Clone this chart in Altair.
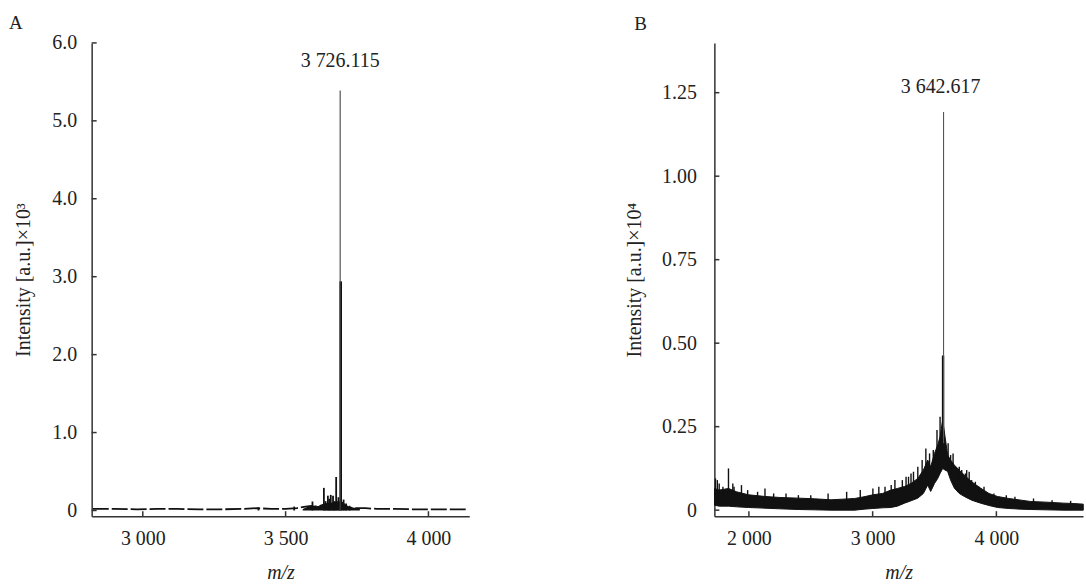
import altair as alt
import pandas as pd

FONT = "Liberation Serif"
INK = "#111111"
AXC = "#333333"

# ---------------- Panel A data ----------------
a_base_mz = [2825, 2900, 2980, 3050, 3120, 3200, 3280, 3350, 3400, 3450, 3500, 3540,
             3570, 3590, 3600, 3620, 3640, 3660, 3680, 3700, 3710, 3720, 3740, 3780,
             3820, 3880, 3950, 4020, 4080, 4140]
a_base_v = [0.02, 0.02, 0.015, 0.02, 0.02, 0.015, 0.015, 0.02, 0.03, 0.02, 0.02, 0.03,
            0.05, 0.06, 0.05, 0.06, 0.08, 0.08, 0.08, 0.1, 0.06, 0.04, 0.03, 0.03,
            0.02, 0.02, 0.015, 0.015, 0.015, 0.015]
a_clu_mz = [3560, 3580, 3600, 3620, 3630, 3640, 3650, 3660, 3670, 3680, 3688, 3695,
            3700, 3710, 3720, 3740, 3760]
a_clu_v = [0.02, 0.05, 0.05, 0.06, 0.08, 0.09, 0.1, 0.1, 0.11, 0.12, 0.12, 0.12,
           0.09, 0.07, 0.05, 0.035, 0.02]
a_spk_mz = [3405, 3530, 3594, 3634, 3640, 3648, 3653, 3658, 3666, 3671, 3677, 3685,
            3703, 3712, 3724]
a_spk_top = [0.04, 0.05, 0.115, 0.29, 0.12, 0.19, 0.15, 0.2, 0.19, 0.12, 0.43, 0.17,
             0.14, 0.09, 0.06]
a_main_mz = 3691
a_main_top = 5.39
a_main_thick_top = 2.94
a_label = "3 726.115"
a_xticks = [3000, 3500, 4000]
a_yticks = [0, 1, 2, 3, 4, 5, 6]

# ---------------- Panel B data ----------------
b_mz = [1722, 1760, 1835, 1900, 1996, 2130, 2250, 2399, 2530, 2664, 2760, 2855, 2930,
        3002, 3080, 3147, 3200, 3258, 3310, 3365, 3410, 3445, 3469, 3500, 3526, 3545,
        3566, 3585, 3606, 3630, 3660, 3700, 3741, 3800, 3872, 3940, 4009, 4100, 4200,
        4275, 4400, 4546, 4620, 4702]
b_hi = [0.065, 0.06, 0.065, 0.055, 0.046, 0.041, 0.038, 0.036, 0.034, 0.031, 0.033,
        0.035, 0.04, 0.046, 0.05, 0.06, 0.065, 0.071, 0.08, 0.095, 0.12, 0.15, 0.13,
        0.17, 0.195, 0.22, 0.27, 0.22, 0.165, 0.15, 0.135, 0.12, 0.105, 0.085, 0.066,
        0.05, 0.041, 0.035, 0.03, 0.026, 0.024, 0.021, 0.02, 0.018]
b_lo = [0.015, 0.012, 0.012, 0.01, 0.008, 0.006, 0.004, 0.002, 0.001, 0.0, 0.0, 0.0,
        0.003, 0.005, 0.007, 0.008, 0.012, 0.021, 0.028, 0.036, 0.05, 0.075, 0.056,
        0.08, 0.095, 0.11, 0.125, 0.12, 0.116, 0.09, 0.066, 0.05, 0.041, 0.03, 0.021,
        0.014, 0.008, 0.005, 0.003, 0.002, 0.001, 0.0, 0.0, 0.0]
b_spk_mz = [1730, 1745, 1760, 1790, 1835, 1870, 1880, 1940, 1990, 2070, 2130, 2200,
            2300, 2400, 2500, 2640, 2790, 2900, 3002, 3050, 3100, 3150, 3180, 3240,
            3270, 3290, 3310, 3330, 3365, 3400, 3430, 3460, 3490, 3520, 3545, 3566,
            3610, 3630, 3650, 3680, 3700, 3720, 3750, 3760, 3780, 3800, 3830, 3860,
            3900, 3980, 4080, 4150, 4300, 4450, 4600]
b_spk_base = [0.04, 0.04, 0.04, 0.04, 0.05, 0.04, 0.04, 0.04, 0.03, 0.03, 0.03, 0.03,
              0.03, 0.03, 0.03, 0.03, 0.03, 0.03, 0.04, 0.04, 0.05, 0.05, 0.05, 0.06,
              0.06, 0.07, 0.07, 0.07, 0.08, 0.09, 0.1, 0.1, 0.1, 0.15, 0.18, 0.2,
              0.15, 0.12, 0.12, 0.1, 0.1, 0.09, 0.08, 0.08, 0.07, 0.06, 0.06, 0.05,
              0.04, 0.04, 0.03, 0.03, 0.02, 0.02, 0.015]
b_spk_top = [0.095, 0.09, 0.08, 0.07, 0.125, 0.08, 0.07, 0.075, 0.06, 0.055, 0.065,
             0.05, 0.05, 0.045, 0.045, 0.05, 0.055, 0.06, 0.065, 0.07, 0.07, 0.075,
             0.09, 0.09, 0.1, 0.1, 0.11, 0.115, 0.13, 0.15, 0.185, 0.17, 0.18, 0.24,
             0.28, 0.32, 0.2, 0.165, 0.17, 0.125, 0.13, 0.12, 0.11, 0.12, 0.115,
             0.09, 0.085, 0.07, 0.07, 0.05, 0.045, 0.04, 0.035, 0.03, 0.028]
b_main_mz = 3573
b_main_top = 1.192
b_main_thick_top = 0.463
b_main_base = 0.2
b_label = "3 642.617"
b_xticks = [2000, 3000, 4000]
b_yticks = [0, 0.25, 0.5, 0.75, 1.0, 1.25]


def xenc(dom, vals):
    return alt.X("mz:Q",
                 scale=alt.Scale(domain=dom, nice=False, zero=False),
                 axis=alt.Axis(values=vals, title="m/z", titleFontStyle="italic",
                               labelExpr="replace(format(datum.value, ','), ',', ' ')",
                               ticks=False, grid=False, labelPadding=12,
                               titlePadding=15, labelFlush=False))


def yenc(field, dom, vals, fmt, title, lp, tp):
    return alt.Y(f"{field}:Q",
                 scale=alt.Scale(domain=dom, nice=False, zero=False),
                 axis=alt.Axis(values=vals, title=title,
                               labelExpr=f"datum.value == 0 ? '0' : format(datum.value, '{fmt}')",
                               ticks=False, grid=False, labelPadding=lp,
                               titlePadding=tp))


def panel(W, H, xdom, ydom, xt, yt, fmt, title, lp, tp, letter, lx, ly,
          layers_fn):
    X = xenc(xdom, xt)

    def Y(f):
        return yenc(f, ydom, yt, fmt, title, lp, tp)

    layers = layers_fn(X, Y)
    xt_df = pd.DataFrame({"mz": xt})
    yt_df = pd.DataFrame({"v": yt})
    xticks = alt.Chart(xt_df).mark_rule(color=AXC, strokeWidth=1.5).encode(
        x=X, y=alt.value(H), y2=alt.value(H - 5))
    yticks = alt.Chart(yt_df).mark_rule(color=AXC, strokeWidth=1.5).encode(
        y=Y("v"), x=alt.value(0), x2=alt.value(5))
    let = alt.Chart(pd.DataFrame({"t": [letter]})).mark_text(
        font=FONT, fontSize=19, color="#222", align="center", baseline="middle"
    ).encode(x=alt.value(lx), y=alt.value(ly), text="t:N")
    return alt.layer(*layers, xticks, yticks, let).properties(width=W, height=H)


def layers_a(X, Y):
    base = alt.Chart(pd.DataFrame({"mz": a_base_mz, "v": a_base_v})).mark_line(
        color=INK, strokeWidth=1.8, strokeDash=[16, 3]).encode(x=X, y=Y("v"))
    clu = alt.Chart(pd.DataFrame({"mz": a_clu_mz, "v": a_clu_v})).mark_area(
        color=INK).encode(x=X, y=Y("v"), y2=alt.datum(0))
    spk = alt.Chart(pd.DataFrame({"mz": a_spk_mz, "v": a_spk_top})).mark_rule(
        color=INK, strokeWidth=1.8).encode(x=X, y=Y("v"), y2=alt.datum(0))
    main = alt.Chart(pd.DataFrame({"mz": [a_main_mz], "v": [a_main_top]})).mark_rule(
        color="#444", strokeWidth=1.1).encode(x=X, y=Y("v"), y2=alt.datum(0))
    thick = alt.Chart(pd.DataFrame({"mz": [a_main_mz + 2], "v": [a_main_thick_top]})).mark_rule(
        color=INK, strokeWidth=2.6).encode(x=X, y=Y("v"), y2=alt.datum(0))
    lab = alt.Chart(pd.DataFrame({"mz": [a_main_mz], "v": [a_main_top], "t": [a_label]})).mark_text(
        font=FONT, fontSize=20, color="#222", dy=-24, baseline="alphabetic"
    ).encode(x=X, y=Y("v"), text="t:N")
    return [base, clu, spk, thick, main, lab]


def layers_b(X, Y):
    band = alt.Chart(pd.DataFrame({"mz": b_mz, "hi": b_hi, "lo": b_lo})).mark_area(
        color=INK, stroke=INK, strokeWidth=1.0).encode(x=X, y=Y("hi"), y2="lo:Q")
    spk = alt.Chart(pd.DataFrame({"mz": b_spk_mz, "v": b_spk_top, "b": b_spk_base})).mark_rule(
        color=INK, strokeWidth=1.4).encode(x=X, y=Y("v"), y2="b:Q")
    main = alt.Chart(pd.DataFrame({"mz": [b_main_mz], "v": [b_main_top], "b": [b_main_base]})).mark_rule(
        color="#555", strokeWidth=1.1).encode(x=X, y=Y("v"), y2="b:Q")
    thick = alt.Chart(pd.DataFrame({"mz": [b_main_mz - 4], "v": [b_main_thick_top], "b": [b_main_base]})).mark_rule(
        color=INK, strokeWidth=2.4).encode(x=X, y=Y("v"), y2="b:Q")
    lab = alt.Chart(pd.DataFrame({"mz": [b_main_mz], "v": [b_main_top], "t": [b_label]})).mark_text(
        font=FONT, fontSize=20, color="#222", dx=-3, dy=-19, baseline="alphabetic"
    ).encode(x=X, y=Y("v"), text="t:N")
    return [band, spk, thick, main, lab]


A = panel(379, 475, [2821, 4143], [-0.073, 6.0], a_xticks, a_yticks, ".1f",
          "Intensity [a.u.]×10³", 15, 18, "A", -76, -20, layers_a)
B = panel(370, 475, [1721, 4700], [-0.018, 1.399], b_xticks, b_yticks, ".2f",
          "Intensity [a.u.]×10⁴", 18, 17, "B", -74, -19, layers_b)

chart = alt.hconcat(A, B, spacing=153).configure(
    padding={"left": 9, "top": 13, "right": 0, "bottom": 0}
).configure_axis(
    domainColor=AXC, domainWidth=1.5, labelFont=FONT, labelFontSize=20,
    labelColor="#222", titleFont=FONT, titleFontSize=20, titleFontWeight="normal",
    titleColor="#222"
).configure_view(stroke=None)

chart.save("out.html", embed_options={"renderer": "svg", "actions": False})
